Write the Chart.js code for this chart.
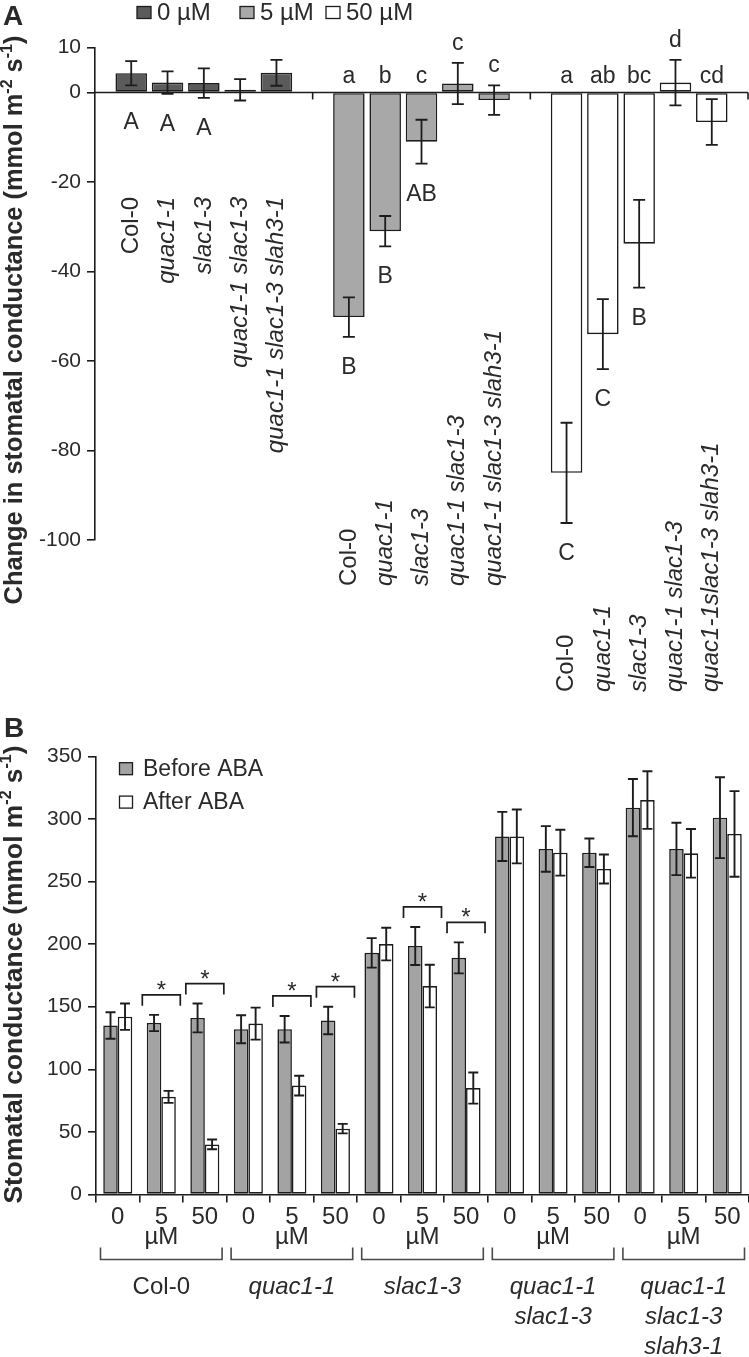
<!DOCTYPE html>
<html><head><meta charset="utf-8">
<script src="https://cdn.jsdelivr.net/npm/chart.js@4/dist/chart.umd.min.js"></script>
<style>
html,body{margin:0;padding:0;background:#fff;width:749px;height:1357px;overflow:hidden}
#wa{position:absolute;left:0;top:0;width:749px;height:705px}
#wb{position:absolute;left:0;top:705px;width:749px;height:652px}
canvas{display:block}
</style></head><body>
<div id="wa"><canvas id="ca" width="749" height="705"></canvas></div>
<div id="wb"><canvas id="cb" width="749" height="652"></canvas></div>
<script>
// ================= PANEL A DATA =================
const concLabelsA = ['0 µM', '5 µM', '50 µM'];
const genotypesA = ['Col-0', 'quac1-1', 'slac1-3', 'quac1-1 slac1-3', 'quac1-1 slac1-3 slah3-1'];
// change in stomatal conductance per genotype at [0, 5, 50] µM
const changeCol0 = [4.3, -50.2, -85.0];
const changeQuac = [2.2, -31.0, -54.0];
const changeSlac = [2.1, -11.0, -33.8];
const changeQS   = [0.6, 2.0, 2.2];
const changeQSS  = [4.4, -1.7, -6.6];
const errCol0 = [2.7, 4.4, 11.2];
const errQuac = [2.5, 3.4, 7.8];
const errSlac = [3.3, 4.9, 9.8];
const errQS   = [2.4, 4.6, 5.1];
const errQSS  = [2.9, 3.3, 5.1];
const yTicksA = [10, 0, -20, -40, -60, -80, -100];
const lettersAbove0  = ['', '', '', '', ''];
const lettersAbove5  = ['a', 'b', 'c', 'c', 'c'];
const lettersAbove50 = ['a', 'ab', 'bc', 'd', 'cd'];
const lettersBelow0  = ['A', 'A', 'A', '', ''];
const lettersBelow5  = ['B', 'B', 'AB', '', ''];
const lettersBelow50 = ['C', 'C', 'B', '', ''];
const genoLabels0  = ['Col-0', 'quac1-1', 'slac1-3', 'quac1-1 slac1-3', 'quac1-1 slac1-3 slah3-1'];
const genoLabels5  = ['Col-0', 'quac1-1', 'slac1-3', 'quac1-1 slac1-3', 'quac1-1 slac1-3 slah3-1'];
const genoLabels50 = ['Col-0', 'quac1-1', 'slac1-3', 'quac1-1 slac1-3', 'quac1-1slac1-3 slah3-1'];

// ================= PANEL B DATA =================
const concLabelsB = ['0', '5', '50', '0', '5', '50', '0', '5', '50', '0', '5', '50', '0', '5', '50'];
const genotypeNamesB = [['Col-0'], ['quac1-1'], ['slac1-3'], ['quac1-1', 'slac1-3'], ['quac1-1', 'slac1-3', 'slah3-1']];
const beforeABA = [135, 137, 141, 132, 132, 139, 193, 198.5, 189, 286, 276, 273, 309, 276, 301];
const beforeErr = [10.6, 6.5, 11.5, 11.2, 10.6, 11, 11.8, 15.2, 12.4, 19.6, 18.2, 11.4, 22.9, 20.9, 32.3];
const afterABA  = [142, 78, 40, 136.5, 87, 52.6, 200, 166.5, 85, 286, 273, 260, 315, 272.5, 288];
const afterErr  = [10.5, 4.8, 3.9, 12.8, 7.9, 3.8, 13, 17, 12.4, 21.5, 18.3, 11.6, 23, 19.4, 34.2];
const signifB   = [0, 1, 1, 0, 1, 1, 0, 1, 1, 0, 0, 0, 0, 0, 0];
const seriesLabelsB = ['Before ABA', 'After ABA'];

// ================= STYLE =================
const FONT = '"Liberation Sans", Arial, Helvetica, sans-serif';
const INK = '#2a2a2a';
const EDGE = '#1c1c1c';
const DARK = '#5b5b5b', LIGHT = '#a8a8a8', WHITE = '#ffffff', BGRAY = '#a3a3a3';
const concColorsA = [DARK, LIGHT, WHITE];

const seriesA = [changeCol0, changeQuac, changeSlac, changeQS, changeQSS];
const errorsA = [errCol0, errQuac, errSlac, errQS, errQSS];
const lettersAbove = [lettersAbove0, lettersAbove5, lettersAbove50];
const lettersBelow = [lettersBelow0, lettersBelow5, lettersBelow50];
const genoLabels = [genoLabels0, genoLabels5, genoLabels50];
const labelAnchorA = [{align: 'right', y: 197}, {align: 'left', y: 586}, {align: 'left', y: 692}];

function drawRichRotated(ctx, parts, cx, cy, size, weight) {
  ctx.save();
  ctx.translate(cx, cy);
  ctx.rotate(-Math.PI / 2);
  const sup = Math.round(size * 0.62);
  let total = 0;
  parts.forEach(p => { ctx.font = `${weight} ${p.sup ? sup : size}px ${FONT}`; p.w = ctx.measureText(p.t).width; total += p.w; });
  let x = -total / 2;
  ctx.textAlign = 'left'; ctx.textBaseline = 'middle'; ctx.fillStyle = INK;
  parts.forEach(p => { ctx.font = `${weight} ${p.sup ? sup : size}px ${FONT}`; ctx.fillText(p.t, x, p.sup ? -size * 0.3 : 0); x += p.w; });
  ctx.restore();
}
function errBar(ctx, x, yt, yb, cap) {
  ctx.beginPath();
  ctx.moveTo(x, yt); ctx.lineTo(x, yb);
  ctx.moveTo(x - cap / 2, yt); ctx.lineTo(x + cap / 2, yt);
  ctx.moveTo(x - cap / 2, yb); ctx.lineTo(x + cap / 2, yb);
  ctx.stroke();
}

// ================= PANEL A =================
const panelAPlugin = {
  id: 'panelA',
  afterDatasetsDraw(chart) {
    const ctx = chart.ctx, ys = chart.scales.y;
    ctx.save();
    ctx.strokeStyle = EDGE; ctx.lineWidth = 1.8;
    seriesA.forEach((vals, i) => {
      const meta = chart.getDatasetMeta(i);
      vals.forEach((v, j) => {
        const el = meta.data[j];
        errBar(ctx, el.x, ys.getPixelForValue(v + errorsA[i][j]), ys.getPixelForValue(v - errorsA[i][j]), 12);
      });
    });
    ctx.restore();
  },
  afterDraw(chart) {
    const ctx = chart.ctx, xs = chart.scales.x, ys = chart.scales.y, ca = chart.chartArea;
    const y0 = ys.getPixelForValue(0);
    const cw = (ca.right - ca.left) / concLabelsA.length;
    ctx.save();
    ctx.strokeStyle = EDGE; ctx.lineWidth = 1.6;
    ctx.beginPath(); ctx.moveTo(ca.left, y0); ctx.lineTo(ca.right, y0); ctx.stroke();
    for (let j = 0; j < concLabelsA.length; j++) {
      const xb = xs.getPixelForValue(j) + cw / 2;
      ctx.beginPath(); ctx.moveTo(xb, y0); ctx.lineTo(xb, y0 + 7); ctx.stroke();
    }
    // letters
    ctx.fillStyle = INK;
    ctx.font = `23px ${FONT}`;
    ctx.textAlign = 'center'; ctx.textBaseline = 'alphabetic';
    seriesA.forEach((vals, i) => {
      const meta = chart.getDatasetMeta(i);
      vals.forEach((v, j) => {
        const x = meta.data[j].x;
        const yt = ys.getPixelForValue(v + errorsA[i][j]);
        const yb = ys.getPixelForValue(v - errorsA[i][j]);
        const up = lettersAbove[j][i];
        if (up) ctx.fillText(up, x, Math.min(y0 - 9, yt - 13));
        const dn = lettersBelow[j][i];
        if (dn) ctx.fillText(dn, x, Math.max(yb, y0) + 37);
      });
    });
    // genotype labels (rotated)
    seriesA.forEach((vals, i) => {
      const meta = chart.getDatasetMeta(i);
      vals.forEach((v, j) => {
        const txt = genoLabels[j][i];
        const x = meta.data[j].x;
        ctx.save();
        ctx.translate(x, labelAnchorA[j].y);
        ctx.rotate(-Math.PI / 2);
        ctx.font = (txt === 'Col-0' ? '' : 'italic ') + `24px ${FONT}`;
        ctx.textAlign = labelAnchorA[j].align; ctx.textBaseline = 'middle';
        ctx.fillStyle = INK;
        ctx.fillText(txt, 0, 0);
        ctx.restore();
      });
    });
    // legend
    const legX = [137, 240, 326];
    concLabelsA.forEach((lab, k) => {
      ctx.fillStyle = concColorsA[k]; ctx.fillRect(legX[k], 6.5, 14, 12);
      ctx.strokeStyle = EDGE; ctx.lineWidth = 1.3; ctx.strokeRect(legX[k], 6.5, 14, 12);
      ctx.fillStyle = INK; ctx.font = `24px ${FONT}`; ctx.textAlign = 'left'; ctx.textBaseline = 'middle';
      ctx.fillText(lab, legX[k] + 20, 13);
    });
    // panel label
    ctx.font = `bold 28px ${FONT}`; ctx.textAlign = 'left'; ctx.textBaseline = 'alphabetic'; ctx.fillStyle = INK;
    ctx.fillText('A', 3, 25);
    ctx.restore();
    drawRichRotated(ctx, [{t: 'Change in stomatal conductance (mmol m'}, {t: '-2', sup: true}, {t: ' s'}, {t: '-1', sup: true}, {t: ')'}], 15, 320, 25.4, 'bold');
  }
};

new Chart(document.getElementById('ca'), {
  type: 'bar',
  data: {
    labels: concLabelsA,
    datasets: seriesA.map((d, i) => ({
      label: genotypesA[i], data: d,
      backgroundColor: concColorsA, borderColor: EDGE, borderWidth: 1.6, borderSkipped: false,
      categoryPercentage: 0.834, barPercentage: 0.868
    }))
  },
  options: {
    responsive: false, animation: false, devicePixelRatio: 1,
    layout: {padding: {left: 0, right: 1, top: 47.7, bottom: 165}},
    plugins: {legend: {display: false}, tooltip: {enabled: false}},
    scales: {
      x: {display: false},
      y: {
        min: -100, max: 10,
        afterBuildTicks: s => { s.ticks = yTicksA.map(v => ({value: v})); },
        afterFit: s => { s.width = 95; },
        grid: {display: true, drawOnChartArea: false, drawTicks: true, tickLength: 8, color: EDGE, lineWidth: 1.6},
        border: {display: true, color: EDGE, width: 1.6},
        ticks: {font: {family: FONT, size: 21}, color: INK, padding: 6}
      }
    }
  },
  plugins: [panelAPlugin]
});

// ================= PANEL B =================
const panelBPlugin = {
  id: 'panelB',
  afterDatasetsDraw(chart) {
    const ctx = chart.ctx, ys = chart.scales.y;
    ctx.save();
    ctx.strokeStyle = EDGE; ctx.lineWidth = 1.9;
    [[beforeABA, beforeErr], [afterABA, afterErr]].forEach(([vals, errs], d) => {
      const meta = chart.getDatasetMeta(d);
      vals.forEach((v, j) => {
        errBar(ctx, meta.data[j].x, ys.getPixelForValue(v + errs[j]), ys.getPixelForValue(v - errs[j]), 10);
      });
    });
    ctx.restore();
  },
  afterDraw(chart) {
    const ctx = chart.ctx, xs = chart.scales.x, ys = chart.scales.y, ca = chart.chartArea;
    const cw = (ca.right - ca.left) / concLabelsB.length;
    ctx.save();
    // significance brackets
    ctx.strokeStyle = EDGE; ctx.lineWidth = 1.7; ctx.fillStyle = INK;
    signifB.forEach((s, j) => {
      if (!s) return;
      const xc = xs.getPixelForValue(j);
      const top = Math.min(ys.getPixelForValue(beforeABA[j] + beforeErr[j]), ys.getPixelForValue(afterABA[j] + afterErr[j]));
      const yb = top - 20;
      ctx.beginPath();
      ctx.moveTo(xc - 19, yb + 11); ctx.lineTo(xc - 19, yb); ctx.lineTo(xc + 19, yb); ctx.lineTo(xc + 19, yb + 11);
      ctx.stroke();
      ctx.font = `24px ${FONT}`; ctx.textAlign = 'center'; ctx.textBaseline = 'alphabetic';
      ctx.fillText('*', xc, yb + 3);
    });
    // µM, group brackets, genotype names
    const axisY = ca.bottom;
    genotypeNamesB.forEach((lines, g) => {
      const xc = xs.getPixelForValue(g * 3 + 1);
      ctx.fillStyle = INK; ctx.font = `24px ${FONT}`; ctx.textAlign = 'center'; ctx.textBaseline = 'middle';
      ctx.fillText('µM', xc, axisY + 43);
      const half = cw * 1.5 - 4.5;
      ctx.strokeStyle = '#4a4a4a'; ctx.lineWidth = 1.6;
      ctx.beginPath();
      ctx.moveTo(xc - half, axisY + 53); ctx.lineTo(xc - half, axisY + 65); ctx.lineTo(xc + half, axisY + 65); ctx.lineTo(xc + half, axisY + 53);
      ctx.stroke();
      lines.forEach((ln, k) => {
        ctx.font = (ln === 'Col-0' ? '' : 'italic ') + `24px ${FONT}`;
        ctx.fillText(ln, xc, axisY + 93 + k * 30);
      });
    });
    // legend
    const legColors = [BGRAY, WHITE];
    seriesLabelsB.forEach((lab, k) => {
      const y = 57.7 + k * 33.4;
      ctx.fillStyle = legColors[k]; ctx.fillRect(119.5, y, 13, 12);
      ctx.strokeStyle = EDGE; ctx.lineWidth = 1.3; ctx.strokeRect(119.5, y, 13, 12);
      ctx.fillStyle = INK; ctx.font = `23px ${FONT}`; ctx.textAlign = 'left'; ctx.textBaseline = 'middle';
      ctx.fillText(lab, 143, y + 6.5);
    });
    ctx.font = `bold 28px ${FONT}`; ctx.textAlign = 'left'; ctx.textBaseline = 'alphabetic'; ctx.fillStyle = INK;
    ctx.fillText('B', 4, 31.7);
    ctx.restore();
    drawRichRotated(ctx, [{t: 'Stomatal conductance (mmol m'}, {t: '-2', sup: true}, {t: ' s'}, {t: '-1', sup: true}, {t: ')'}], 15, 269.5, 26.4, 'bold');
  }
};

new Chart(document.getElementById('cb'), {
  type: 'bar',
  data: {
    labels: concLabelsB,
    datasets: [
      {label: seriesLabelsB[0], data: beforeABA, backgroundColor: BGRAY, borderColor: EDGE, borderWidth: 1.6, borderSkipped: false, categoryPercentage: 0.667, barPercentage: 1.0},
      {label: seriesLabelsB[1], data: afterABA, backgroundColor: WHITE, borderColor: EDGE, borderWidth: 1.6, borderSkipped: false, categoryPercentage: 0.667, barPercentage: 1.0}
    ]
  },
  options: {
    responsive: false, animation: false, devicePixelRatio: 1,
    layout: {padding: {left: 0, right: 0, top: 51.3, bottom: 0}},
    plugins: {legend: {display: false}, tooltip: {enabled: false}},
    scales: {
      x: {
        afterFit: s => { s.height = 162.5; },
        grid: {display: true, offset: true, drawOnChartArea: false, drawTicks: true, tickLength: 8, color: EDGE, lineWidth: 1.6},
        border: {display: true, color: EDGE, width: 1.6},
        ticks: {font: {family: FONT, size: 24}, color: INK, padding: 0, maxRotation: 0, autoSkip: false}
      },
      y: {
        min: 0, max: 350,
        ticks: {stepSize: 50, font: {family: FONT, size: 21}, color: INK, padding: 6},
        afterFit: s => { s.width = 96; },
        grid: {display: true, drawOnChartArea: false, drawTicks: true, tickLength: 8, color: EDGE, lineWidth: 1.6},
        border: {display: true, color: EDGE, width: 1.6}
      }
    }
  },
  plugins: [panelBPlugin]
});
</script>
</body></html>
